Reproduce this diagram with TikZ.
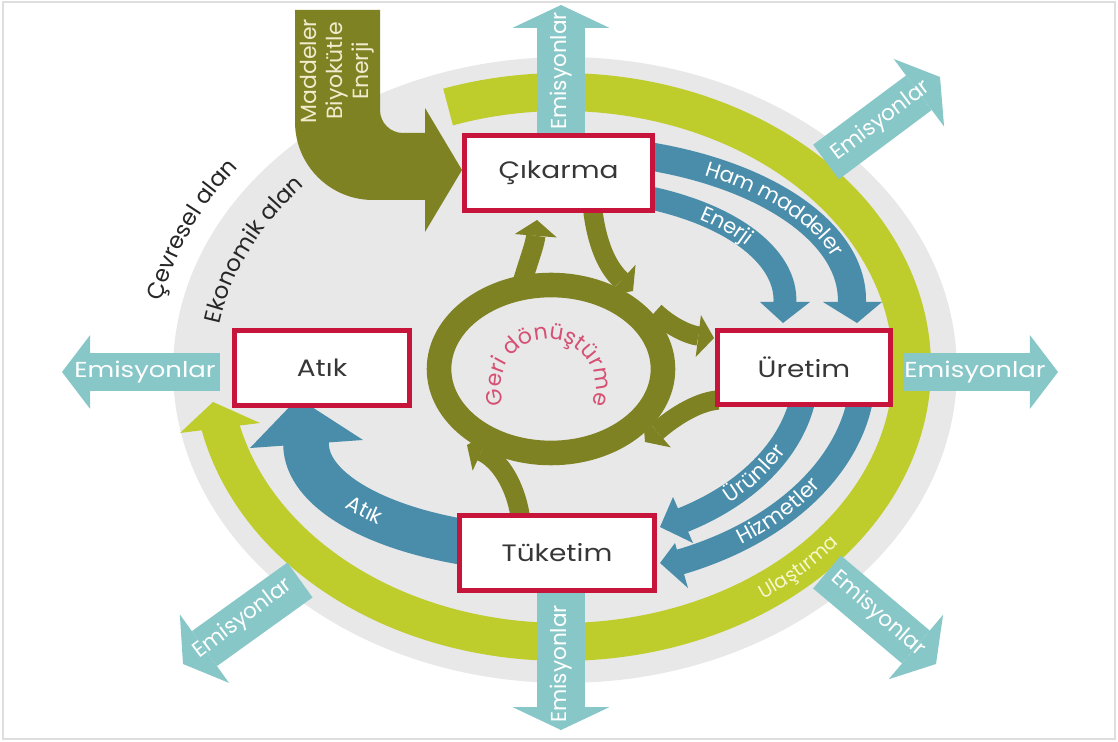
\documentclass[tikz,border=0pt]{standalone}
\usepackage{fontspec}
\setmainfont{Poppins}
\usetikzlibrary{arrows.meta,decorations.text}
\definecolor{graybg}{RGB}{232,232,232}
\definecolor{limec}{RGB}{190,204,44}
\definecolor{emisc}{RGB}{136,199,200}
\definecolor{bluec}{RGB}{73,141,171}
\definecolor{olivec}{RGB}{126,130,34}
\definecolor{boxred}{RGB}{198,20,58}
\definecolor{gerired}{RGB}{214,80,115}
\definecolor{boxtext}{RGB}{55,55,55}
\definecolor{framec}{RGB}{222,222,222}
\definecolor{creamc}{RGB}{240,236,205}
\definecolor{palelime}{RGB}{246,248,205}
\begin{document}
\begin{tikzpicture}[x=0.02cm,y=0.02cm,
 box/.style={draw=boxred, line width=2.8pt, fill=white, inner sep=0pt, text=boxtext, font=\fontsize{13.5}{16}\selectfont},
 emisV/.style={draw=emisc, line width=27pt, -{Triangle[width=55pt,length=13pt,line width=0pt]}},
 emisH/.style={draw=emisc, line width=22pt, -{Triangle[width=42pt,length=16pt,line width=0pt]}},
 emisD/.style={draw=emisc, line width=24.5pt, -{Triangle[width=48pt,length=15pt,line width=0pt]}},
 emistext/.style={text=white, font=\fontsize{12.3}{14}\selectfont, inner sep=0pt},
 oarrow/.style={draw=olivec, line width=11pt, -{Triangle[width=24pt,length=9pt,line width=0pt]}},
 ringtext/.style={decorate, decoration={text along path, text align=center, raise=-3.5pt, text color=#1}},
]
\useasboundingbox (0,0) rectangle (1118,-742);
% frame
\draw[framec, line width=1.2pt] (3,-2) rectangle (1115,-739);
% grey disc
\fill[graybg] (565,-370) ellipse [x radius=7.84cm, y radius=6.26cm];
% curved field labels
\path[decorate, decoration={text along path, text align=center, text color=black!85,
  text={|\fontsize{13}{15}\selectfont|Çevresel alan}}]
  ([shift={(565,-370)}]181:8.24cm and 6.66cm) arc[start angle=181, end angle=131, x radius=8.24cm, y radius=6.66cm];
\path[decorate, decoration={text along path, text align=center, text color=black!85,
  text={|\fontsize{13}{15}\selectfont|Ekonomik alan}}]
  ([shift={(565,-370)}]182:7cm and 5.52cm) arc[start angle=182, end angle=128, x radius=7cm, y radius=5.52cm];
% green transport ring
\draw[limec, line width=21.6pt]
  ([shift={(562,-367)}]109:7cm and 5.5cm) arc[start angle=109, end angle=-168, x radius=7cm, y radius=5.5cm];
\fill[limec] (180,-433) -- (260,-423) -- (213,-402) -- cycle;
\path[ringtext=palelime, decoration={text={|\fontsize{11}{13}\selectfont|Ulaştırma}}]
  ([shift={(562,-367)}]-72:7cm and 5.5cm) arc[start angle=-72, end angle=-20, x radius=7cm, y radius=5.5cm];
% emission arrows
\coordinate (eT0) at (561,-150); \coordinate (eT1) at (561,-5);
\coordinate (eB0) at (561,-580); \coordinate (eB1) at (561,-730);
\coordinate (eL0) at (220,-372); \coordinate (eL1) at (62,-372);
\coordinate (eR0) at (903,-372); \coordinate (eR1) at (1058,-372);
\coordinate (eUR0) at (826,-162); \coordinate (eUR1) at (940,-77);
\coordinate (eLR0) at (827,-572); \coordinate (eLR1) at (936,-664);
\coordinate (eLL0) at (300,-580); \coordinate (eLL1) at (183,-664);
\draw[emisV] (eT0) -- (eT1);
\draw[emisV] (eB0) -- (eB1);
\draw[emisH] (eL0) -- (eL1);
\draw[emisH] (eR0) -- (eR1);
\draw[emisD] (eUR0) -- (eUR1);
\draw[emisD] (eLR0) -- (eLR1);
\draw[emisD] (eLL0) -- (eLL1);
\node[emistext, rotate=90] (tT) at (561,-71) {Emisyonlar};
\node[emistext, rotate=90] (tB) at (561,-664) {Emisyonlar};
\node[emistext] (tL) at (145,-372) {\scalebox{1.2}[1]{Emisyonlar}};
\node[emistext] (tR) at (975,-372) {\scalebox{1.2}[1]{Emisyonlar}};
\node[emistext, rotate=37] (tUR) at (881,-121) {Emisyonlar};
\node[emistext, rotate=-41] (tLR) at (878,-614) {Emisyonlar};
\node[emistext, rotate=37] (tLL) at (243,-619) {Emisyonlar};
% blue flows
% Ham maddeler
\draw[bluec, line width=16pt]
  ([shift={(560,-300)}]74:5.84cm and 3.02cm) arc[start angle=74, end angle=-4, x radius=5.84cm, y radius=3.02cm];
\fill[bluec] (823,-302) -- (882,-302) -- (857,-323) -- cycle;
\path[ringtext=white, decoration={text={|\fontsize{12}{14}\selectfont|Ham maddeler}}]
  ([shift={(560,-300)}]70:5.84cm and 3.02cm) arc[start angle=70, end angle=0, x radius=5.84cm, y radius=3.02cm];
% Enerji
\draw[bluec, line width=13pt]
  ([shift={(560,-300)}]68:4.5cm and 2.23cm) arc[start angle=68, end angle=-4, x radius=4.5cm, y radius=2.23cm];
\fill[bluec] (760,-302) -- (810,-302) -- (783,-323) -- cycle;
\path[ringtext=white, decoration={text={|\fontsize{12}{14}\selectfont|Enerji}}]
  ([shift={(560,-300)}]62:4.5cm and 2.23cm) arc[start angle=62, end angle=16, x radius=4.5cm, y radius=2.23cm];
% Urunler
\draw[bluec, line width=14.5pt]
  ([shift={(560,-372)}]-8:4.92cm and 3.42cm) arc[start angle=-8, end angle=-61, x radius=4.92cm, y radius=3.42cm];
\fill[bluec] (673,-497) -- (693,-543) -- (660,-527) -- cycle;
\path[ringtext=white, decoration={text={|\fontsize{12}{14}\selectfont|Ürünler}}]
  ([shift={(560,-372)}]-62:4.92cm and 3.42cm) arc[start angle=-62, end angle=-8, x radius=4.92cm, y radius=3.42cm];
% Hizmetler
\draw[bluec, line width=14.5pt]
  ([shift={(560,-372)}]-8:6.06cm and 4.14cm) arc[start angle=-8, end angle=-67.5, x radius=6.06cm, y radius=4.14cm];
\fill[bluec] (675,-543) -- (688,-588) -- (660,-563) -- cycle;
\path[ringtext=white, decoration={text={|\fontsize{12}{14}\selectfont|Hizmetler}}]
  ([shift={(560,-372)}]-74:6.06cm and 4.14cm) arc[start angle=-74, end angle=-6, x radius=6.06cm, y radius=4.14cm];
% Atik
\draw[bluec, line width=26pt]
  ([shift={(560,-444)}]248:5.08cm and 2.12cm) arc[start angle=248, end angle=178, x radius=5.08cm, y radius=2.12cm];
\fill[bluec] (250,-448) -- (363,-440) -- (298,-398) -- cycle;
\path[ringtext=white, decoration={text={|\fontsize{12}{14}\selectfont|Atık}}]
  ([shift={(560,-444)}]198:5.08cm and 2.12cm) arc[start angle=198, end angle=236, x radius=5.08cm, y radius=2.12cm];
% olive input arrow
\fill[olivec] (295,-10) -- (380,-10) -- (380,-110) arc[start angle=180, end angle=270, radius=0.46cm]
  -- (425,-133) -- (425,-108) -- (462,-170) -- (425,-232) -- (425,-200) -- (373,-200)
  arc[start angle=270, end angle=180, radius=1.56cm] -- cycle;
\node[rotate=90, align=center, text=creamc, font=\fontsize{12.5}{14.8}\selectfont, inner sep=0pt] (mbe) at (337,-71) {Maddeler\\Biyokütle\\Enerji};
% recycling loop
\coordinate (o1a) at (520,-290); \coordinate (o1b) at (537,-220);
\coordinate (o2a) at (593,-212); \coordinate (o2b) at (633,-291);
\coordinate (o3a) at (655,-312); \coordinate (o3b) at (714,-338);
\coordinate (o4a) at (718,-400); \coordinate (o4b) at (645,-442);
\coordinate (o5a) at (520,-515); \coordinate (o5b) at (467,-445);
\draw[oarrow] (o1a) .. controls (528,-262) and (535,-245) .. (o1b);
\draw[oarrow] (o2a) .. controls (598,-250) and (610,-270) .. (o2b);
\draw[oarrow] (o3a) .. controls (672,-328) and (690,-335) .. (o3b);
\draw[oarrow] (o4a) .. controls (695,-402) and (670,-420) .. (o4b);
\draw[oarrow] (o5a) .. controls (515,-485) and (500,-460) .. (o5b);
\draw[olivec, line width=14pt] (551,-369) ellipse [x radius=2.24cm, y radius=1.68cm];
\path[decorate, decoration={text along path, text align=center, text color=gerired,
  text={|\fontsize{12.5}{14}\selectfont|Geri dönüştürme}}]
  ([shift={(548,-387)}]208:0.95cm) arc[start angle=208, end angle=-28, radius=0.95cm];
% boxes
\node[box, minimum width=3.76cm, minimum height=1.5cm] (cik) at (558.5,-173) {\scalebox{1.18}[1]{Çıkarma}};
\node[box, minimum width=3.46cm, minimum height=1.48cm] (ure) at (804,-367.5) {\scalebox{1.18}[1]{Üretim}};
\node[box, minimum width=3.5cm, minimum height=1.5cm] (atk) at (322,-368) {\scalebox{1.18}[1]{Atık}};
\node[box, minimum width=3.9cm, minimum height=1.5cm] (tuk) at (557,-553) {\scalebox{1.18}[1]{Tüketim}};
\end{tikzpicture}
\end{document}
